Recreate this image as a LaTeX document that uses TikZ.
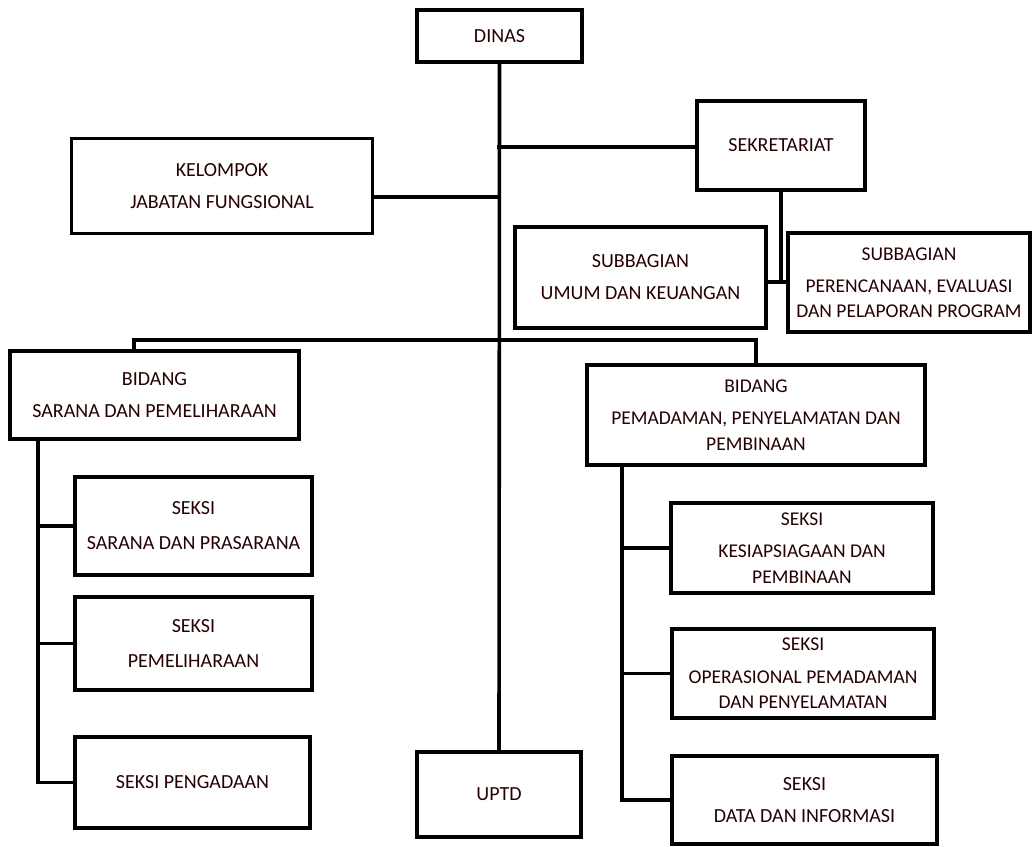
\documentclass[tikz,border=0pt]{standalone}
\usepackage{fontspec}
\setmainfont{Carlito}
\begin{document}
\begin{tikzpicture}[x=1pt,y=-1pt,
  box/.style={draw=black, line width=3.6pt, fill=white, align=center, inner sep=0pt,
    font=\fontsize{20}{32}\selectfont, text=black!85!red},
  three/.style={font=\fontsize{19.5}{25.5}\selectfont},
  link/.style={draw=black, line width=3.6pt, line cap=rect}]
\useasboundingbox (0,0) rectangle (1032,846);
% nodes
\node[box, minimum width=165, minimum height=52] (DINAS) at (499.5,36) {DINAS};
\node[box, minimum width=301, minimum height=95] (KJF) at (222,186) {KELOMPOK\\JABATAN FUNGSIONAL};
\node[box, minimum width=168, minimum height=89] (SEK) at (781,145.5) {SEKRETARIAT};
\node[box, minimum width=251, minimum height=101] (SUM) at (640.5,277.5) {SUBBAGIAN\\UMUM DAN KEUANGAN};
\node[box, three, minimum width=242, minimum height=99] (SPE) at (909,282.5) {SUBBAGIAN\\[6.5pt]PERENCANAAN, EVALUASI\\DAN PELAPORAN PROGRAM};
\node[box, minimum width=289, minimum height=88] (BSP) at (154.5,395) {BIDANG\\SARANA DAN PEMELIHARAAN};
\node[box, three, minimum width=338, minimum height=100] (BPP) at (756,415) {BIDANG\\[7pt]PEMADAMAN, PENYELAMATAN DAN\\PEMBINAAN};
\node[box, font=\fontsize{20}{35}\selectfont, minimum width=237, minimum height=98] (S1) at (193.5,526) {SEKSI\\SARANA DAN PRASARANA};
\node[box, font=\fontsize{20}{35}\selectfont, minimum width=237, minimum height=93] (S2) at (193.5,643.5) {SEKSI\\PEMELIHARAAN};
\node[box, minimum width=235, minimum height=91] (S3) at (192.5,782.5) {SEKSI PENGADAAN};
\node[box, three, minimum width=262, minimum height=90] (S4) at (802,548) {SEKSI\\[6.5pt]KESIAPSIAGAAN DAN\\PEMBINAAN};
\node[box, three, minimum width=262, minimum height=89] (S5) at (803,673.5) {SEKSI\\[7pt]OPERASIONAL PEMADAMAN\\DAN PENYELAMATAN};
\node[box, minimum width=265, minimum height=88] (S6) at (804.5,800) {SEKSI\\DATA DAN INFORMASI};
\node[box, minimum width=164, minimum height=85] (UPTD) at (499,794.5) {UPTD};
% coordinates
\coordinate (tsek) at (499,147);
\coordinate (tkjf) at (499,197);
\coordinate (bus) at (499,340);
\coordinate (sub) at (781,282);
\coordinate (ls) at (38,0);
\coordinate (rs) at (622,0);
% connectors
\draw[link] (DINAS.south) -- (UPTD.north);
\draw[link] (tsek) -- (tsek -| SEK.west);
\draw[link] (tkjf) -- (tkjf -| KJF.east);
\draw[link] (SEK.south) -- (sub);
\draw[link] (sub -| SUM.east) -- (sub -| SPE.west);
\draw[link] ([xshift=-20.5pt]BSP.north) |- (bus) -| (BPP.north);
\draw[link] (BSP.south -| ls) |- (S3.west);
\draw[link] (S1.west) -- (S1.west -| ls);
\draw[link] (S2.west) -- (S2.west -| ls);
\draw[link] (BPP.south -| rs) |- (S6.west);
\draw[link] (S4.west) -- (S4.west -| rs);
\draw[link] (S5.west) -- (S5.west -| rs);
\end{tikzpicture}
\end{document}
